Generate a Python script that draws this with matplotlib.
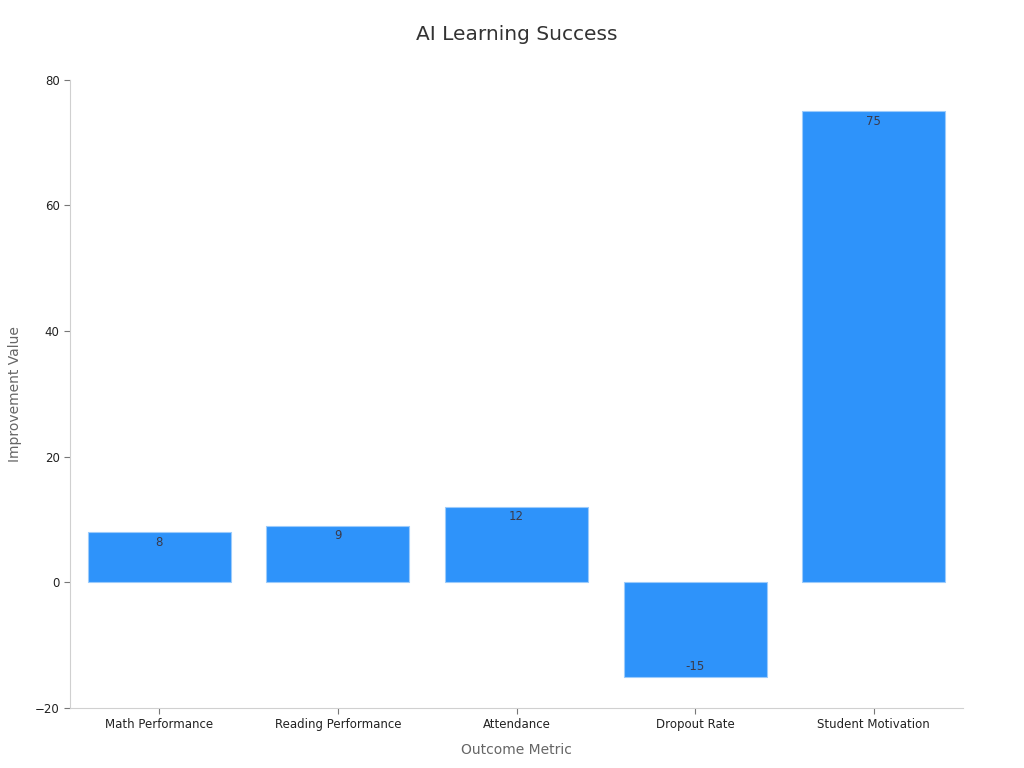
import matplotlib.pyplot as plt

categories = ["Math Performance", "Reading Performance", "Attendance",
              "Dropout Rate", "Student Motivation"]
values = [8, 9, 12, -15, 75]
yticks = [-20, 0, 20, 40, 60, 80]

bar_color = "#2E93FA"
grid_grey = "#d0d0d0"

fig = plt.figure(figsize=(10.24, 7.68), dpi=100)
ax = fig.add_axes([0.0684, 0.0781, 0.872, 0.818])

x = range(len(categories))
bars = ax.bar(x, values, width=0.8, color=bar_color, edgecolor="#9ccbfb", linewidth=0.8)

for xi, v in zip(x, values):
    off = -10 if v >= 0 else 10
    ax.annotate(str(v), (xi, v), xytext=(0, off), textcoords="offset pixels",
                ha="center", va="center", fontsize=8.5, color="#3a3a4a")

ax.set_xlim(-0.5, len(categories) - 0.5)
ax.set_ylim(-20, 80)
ax.set_yticks(yticks)
ax.set_xticks(list(x))
ax.set_xticklabels(categories)

for side in ["top", "right"]:
    ax.spines[side].set_visible(False)
for side in ["left", "bottom"]:
    ax.spines[side].set_color(grid_grey)
    ax.spines[side].set_linewidth(0.8)

ax.tick_params(axis="both", colors="#777777", labelcolor="#222222", labelsize=8.5,
               length=4, width=0.8)

ax.set_title("AI Learning Success", fontsize=14.5, color="#333333", pad=29)
ax.set_xlabel("Outcome Metric", fontsize=10, color="#666666", labelpad=8)
ax.set_ylabel("Improvement Value", fontsize=10, color="#666666", labelpad=9)

fig.savefig("out.png", dpi=100)
